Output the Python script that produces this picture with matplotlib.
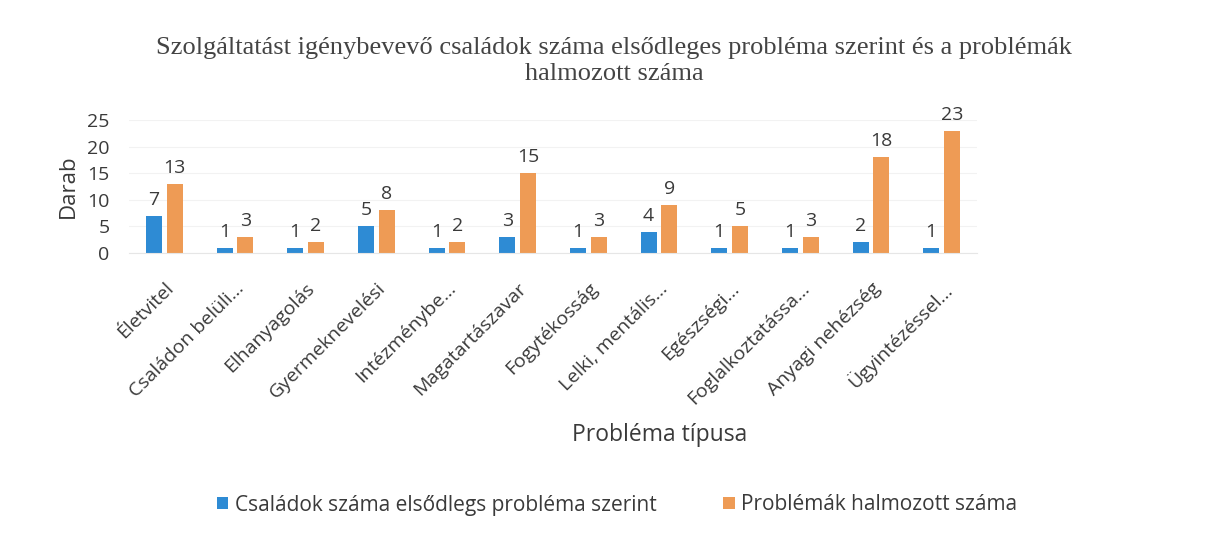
import numpy as np
import matplotlib
matplotlib.use("Agg")
import matplotlib.pyplot as plt

# Adatok
kategoriak = ["Életvitel", "Családon belüli...", "Elhanyagolás", "Gyermeknevelési",
              "Intézménybe...", "Magatartászavar", "Fogytékosság", "Lelki, mentális...",
              "Egészségi...", "Foglalkoztatássa...", "Anyagi nehézség", "Ügyintézéssel..."]
csaladok = [7, 1, 1, 5, 1, 3, 1, 4, 1, 1, 2, 1]
halmozott = [13, 3, 2, 8, 2, 15, 3, 9, 5, 3, 18, 23]
y_ticks = [0, 5, 10, 15, 20, 25]

plt.rcParams['font.family'] = ['Open Sans', 'DejaVu Sans']
szin = "#3a3a3a"

fig = plt.figure(figsize=(12.07, 5.35), dpi=100)
ax = fig.add_axes([129 / 1207, 1 - 253 / 535, (977 - 129) / 1207, 133 / 535])

x = np.arange(len(kategoriak))
w = 0.225
gap = 0.035
b1 = ax.bar(x - w / 2 - gap, csaladok, w, color="#2E8BD4", label="Családok száma elsődlegs probléma szerint")
b2 = ax.bar(x + w / 2 + gap, halmozott, w, color="#EE9B55", label="Problémák halmozott száma")

# Értékcímkék
for bars in (b1, b2):
    for rect in bars:
        h = rect.get_height()
        ax.annotate(str(int(h)), (rect.get_x() + rect.get_width() / 2, h),
                    xytext=(0, 5), textcoords="offset points",
                    ha="center", va="bottom", fontsize=14, color=szin,
                    annotation_clip=False)

ax.set_xlim(-0.5, len(kategoriak) - 0.5)
ax.set_ylim(0, 25)
ax.set_yticks(y_ticks)
ax.tick_params(axis="y", labelsize=14, length=0, colors=szin, pad=14)
ax.set_xticks(x)
ax.set_xticklabels(kategoriak, rotation=45, ha="right", rotation_mode="anchor",
                   fontsize=14, color=szin)
ax.tick_params(axis="x", length=0, pad=19)

ax.grid(axis="y", color="#f2f2f2", linewidth=0.8)
ax.set_axisbelow(True)
for s in ["top", "right", "left"]:
    ax.spines[s].set_visible(False)
ax.spines["bottom"].set_color("#e6e6e6")

ax.set_ylabel("Darab", fontsize=16, color=szin, labelpad=6)
fig.text(660 / 1207, 1 - 435 / 535, "Probléma típusa", ha="center", va="center",
         fontsize=16.5, color=szin)
fig.text(614 / 1207, 1 - 61 / 535,
         "Szolgáltatást igénybevevő családok száma elsődleges probléma szerint és a problémák\nhalmozott száma",
         ha="center", va="center", fontsize=19, family="Liberation Serif",
         color="#444444", linespacing=1.22)

fig.legend(loc="center", bbox_to_anchor=(617 / 1207, 1 - 505 / 535), ncol=2,
           frameon=False, fontsize=15, handlelength=0.55, handleheight=0.55,
           handletextpad=0.3, columnspacing=3.2, labelcolor=szin)

fig.savefig("out.png", dpi=100)
